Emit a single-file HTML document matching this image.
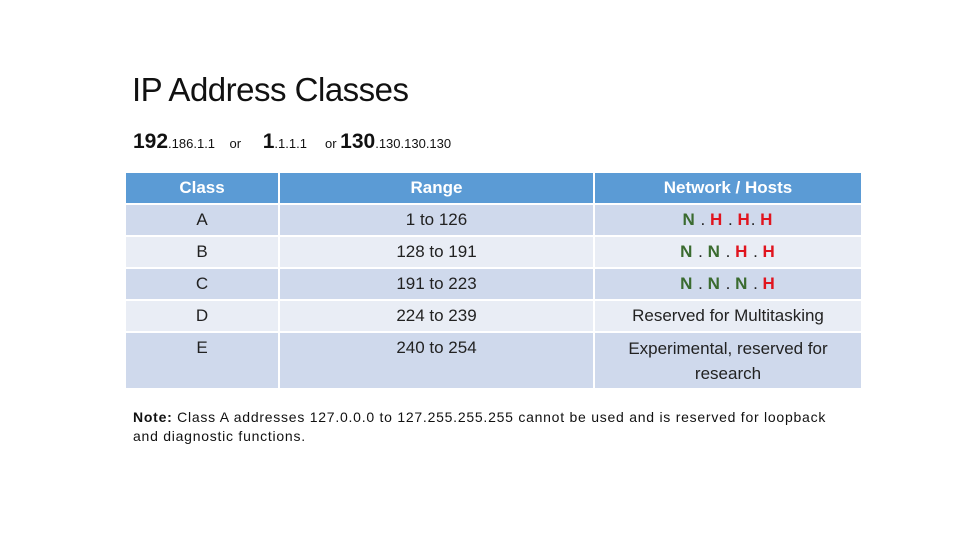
<!DOCTYPE html>
<html><head><style>
body{margin:0;width:965px;height:556px;background:#fff;position:relative;font-family:"Liberation Sans",sans-serif;overflow:hidden}
.t{position:absolute;left:132px;top:71px;font-size:33px;color:#111;letter-spacing:-0.5px}
.s{position:absolute;left:133px;top:130px;font-size:13px;color:#111;white-space:nowrap}
.s b{font-size:21px}
table{position:absolute;left:124px;top:171px;border-collapse:collapse;font-size:17px;color:#222}
td{border:2px solid #fff;text-align:center;padding:0;height:30px}
tr.h td{background:#5b9bd5;color:#fff;font-weight:bold;height:30px}
tr.d td{background:#cfd9ec}
tr.l td{background:#e9edf5}
.g{color:#3a6b2f;font-weight:bold;letter-spacing:1px}.r{color:#e0141e;font-weight:bold;letter-spacing:1px}
.n{position:absolute;left:133px;top:408px;font-size:14px;color:#111;line-height:19px;width:718px;letter-spacing:0.75px}
</style></head><body>
<div class="t">IP Address Classes</div>
<div class="s"><b>192</b>.186.1.1 &nbsp;&nbsp;&nbsp;or &nbsp;&nbsp;&nbsp;&nbsp;&nbsp;<b>1</b>.1.1.1 &nbsp;&nbsp;&nbsp;&nbsp;or <b>130</b>.130.130.130</div>
<table>
<tr class="h"><td style="width:152px">Class</td><td style="width:313px">Range</td><td style="width:266px">Network / Hosts</td></tr>
<tr class="d"><td>A</td><td>1 to 126</td><td><span class="g">N</span> . <span class="r">H</span> . <span class="r">H</span>. <span class="r">H</span></td></tr>
<tr class="l"><td>B</td><td>128 to 191</td><td><span class="g">N</span> . <span class="g">N</span> . <span class="r">H</span> . <span class="r">H</span></td></tr>
<tr class="d"><td>C</td><td>191 to 223</td><td><span class="g">N</span> . <span class="g">N</span> . <span class="g">N</span> . <span class="r">H</span></td></tr>
<tr class="l"><td>D</td><td>224 to 239</td><td>Reserved for Multitasking</td></tr>
<tr class="d"><td style="vertical-align:top;padding-top:5px;height:50px">E</td><td style="vertical-align:top;padding-top:5px">240 to 254</td><td style="line-height:25px">Experimental, reserved for<br>research</td></tr>
</table>
<div class="n"><b>Note:</b> Class A addresses 127.0.0.0 to 127.255.255.255 cannot be used and is reserved for loopback and diagnostic functions.</div>
</body></html>
